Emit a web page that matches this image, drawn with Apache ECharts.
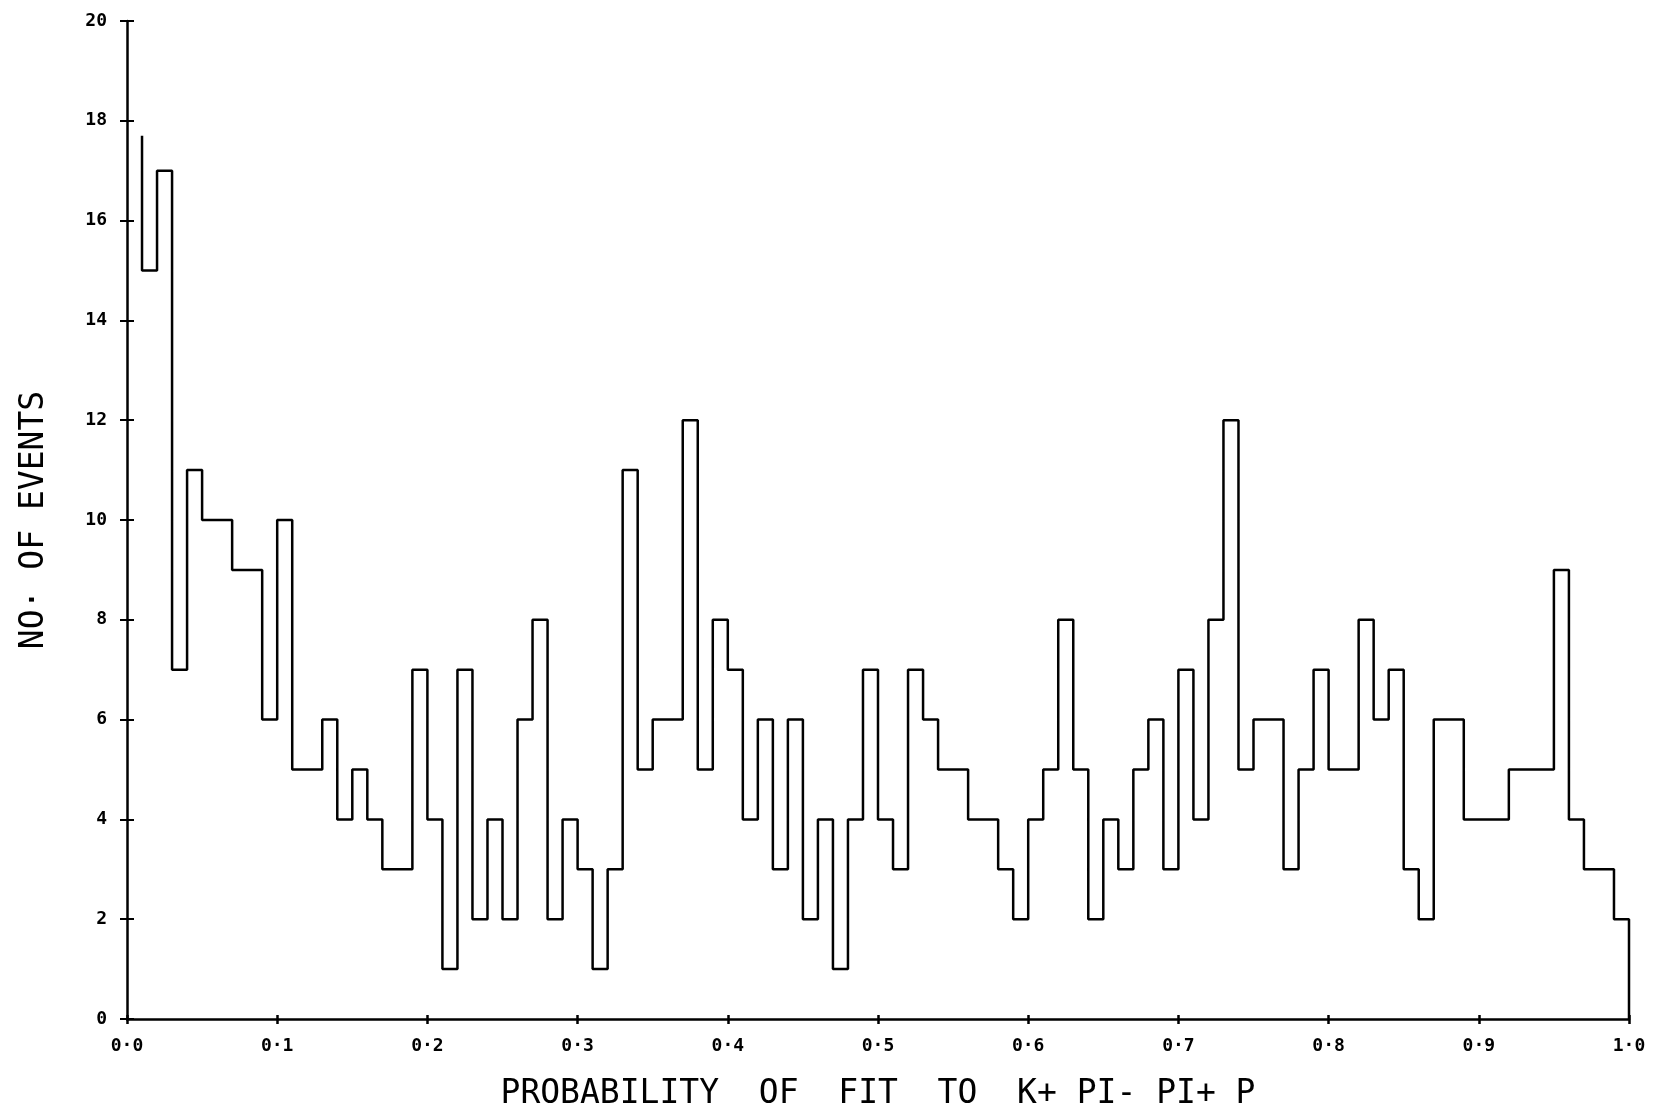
<!DOCTYPE html>
<html>
<head>
<meta charset="utf-8">
<script src="https://cdn.jsdelivr.net/npm/echarts@6/dist/echarts.min.js"></script>
<style>
html,body{margin:0;padding:0;background:#fff;}
#c{width:1669px;height:1116px;}
</style>
</head>
<body>
<div id="c"></div>
<script>
// Histogram: 100 bins of width 0.01 over probability 0..1
var binWidth = 0.01;
// first bin: only its right edge is drawn, starting at this height
var counts = [
  17.7, 15, 17, 7, 11, 10, 10, 9, 9, 6,
  10, 5, 5, 6, 4, 5, 4, 3, 3, 7,
  4, 1, 7, 2, 4, 2, 6, 8, 2, 4,
  3, 1, 3, 11, 5, 6, 6, 12, 5, 8,
  7, 4, 6, 3, 6, 2, 4, 1, 4, 7,
  4, 3, 7, 6, 5, 5, 4, 4, 3, 2,
  4, 5, 8, 5, 2, 4, 3, 5, 6, 3,
  7, 4, 8, 12, 5, 6, 6, 3, 5, 7,
  5, 5, 8, 6, 7, 3, 2, 6, 6, 4,
  4, 4, 5, 5, 5, 9, 4, 3, 3, 2
];
var xTickLabels = ['0·0','0·1','0·2','0·3','0·4','0·5','0·6','0·7','0·8','0·9','1·0'];
var yTickLabels = ['0','2','4','6','8','10','12','14','16','18','20'];
var xTitle = 'PROBABILITY  OF  FIT  TO  K+ PI- PI+ P';
var yTitle = 'NO· OF EVENTS';

// build step outline from the bins (first bin: right edge only)
var path = [];
var n = counts.length;
path.push([binWidth, counts[0]]);
for (var i = 1; i < n; i++) {
  var left = +(i * binWidth).toFixed(4);
  var right = +((i + 1) * binWidth).toFixed(4);
  path.push([left, counts[i - 1]]);
  path.push([left, counts[i]]);
  path.push([right, counts[i]]);
}
path.push([1.0, 0]);

var chart = echarts.init(document.getElementById('c'), null, {renderer: 'canvas'});
var labelFont = {fontFamily: 'DejaVu Sans Mono', fontWeight: 'bold', fontSize: 18, color: '#000'};
var option = {
  backgroundColor: '#fff',
  animation: false,
  grid: {left: 127, right: 40, top: 21, bottom: 97, containLabel: false, outerBoundsMode: 'none'},
  xAxis: [{
    type: 'value', min: 0, max: 1, interval: 0.1,
    axisLine: {show: true, onZero: false, lineStyle: {color: '#000', width: 2.5}},
    axisTick: {show: true, length: 5, inside: false, lineStyle: {color: '#000', width: 2.5}},
    axisLabel: Object.assign({margin: 18, formatter: function (v) { return xTickLabels[Math.round(v * 10)]; }}, labelFont),
    splitLine: {show: false},
    name: xTitle, nameLocation: 'middle', nameGap: 59,
    nameTextStyle: {fontFamily: 'DejaVu Sans Mono', fontSize: 33, color: '#000'}
  }, {
    type: 'value', min: 0, max: 1, interval: 0.1, position: 'bottom',
    axisLine: {show: false},
    axisTick: {show: true, length: 4, inside: true, lineStyle: {color: '#000', width: 2.5}},
    axisLabel: {show: false}, splitLine: {show: false}
  }],
  yAxis: [{
    type: 'value', min: 0, max: 20, interval: 2,
    axisLine: {show: true, onZero: false, lineStyle: {color: '#000', width: 2.5}},
    axisTick: {show: true, length: 7, inside: false, lineStyle: {color: '#000', width: 2}},
    axisLabel: Object.assign({margin: 20, formatter: function (v) { return yTickLabels[Math.round(v / 2)]; }}, labelFont),
    splitLine: {show: false},
    name: yTitle, nameLocation: 'middle', nameGap: 76, nameRotate: 90,
    nameTextStyle: {fontFamily: 'DejaVu Sans Mono', fontSize: 33, color: '#000'}
  }, {
    type: 'value', min: 0, max: 20, interval: 2, position: 'left',
    axisLine: {show: false},
    axisTick: {show: true, length: 7, inside: true, lineStyle: {color: '#000', width: 2}},
    axisLabel: {show: false}, splitLine: {show: false}
  }],
  series: [{
    type: 'line',
    data: path,
    xAxisIndex: 0, yAxisIndex: 0,
    showSymbol: false, symbol: 'none',
    lineStyle: {color: '#000', width: 2.5},
    clip: false
  }]
};
chart.setOption(option);
</script>
</body>
</html>
